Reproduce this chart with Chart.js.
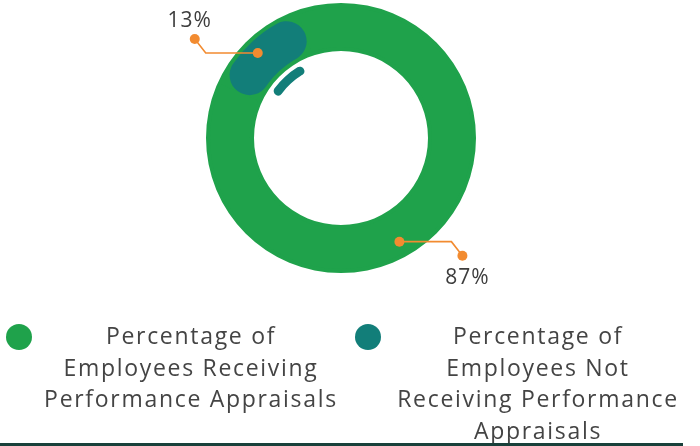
<!DOCTYPE html>
<html>
<head>
<meta charset="utf-8">
<script src="https://cdn.jsdelivr.net/npm/chart.js@4.4.1/dist/chart.umd.min.js"></script>
<style>
  html, body { margin: 0; padding: 0; background: #ffffff; width: 700px; height: 446px; overflow: hidden; }
  body { position: relative; font-family: "Open Sans", "DejaVu Sans", sans-serif; }
  #wrap { position: absolute; left: 0; top: 0; width: 700px; height: 300px; }
  #legend { position: absolute; left: 0; top: 0; width: 700px; height: 446px; }
  .dot { position: absolute; width: 26px; height: 26px; border-radius: 50%; }
  .txt { position: absolute; width: 340px; text-align: center; color: #444444;
         font-size: 23px; line-height: 31.5px; letter-spacing: 1.7px; white-space: nowrap; }
  #rule { position: absolute; left: 0; top: 443px; width: 683px; height: 3px; background: #18403a; }
</style>
</head>
<body>
<div id="wrap"><canvas id="chart"></canvas></div>
<div id="legend"></div>
<div id="rule"></div>
<script>
// Categories (one entry per slice, split into display lines)
const categories = [
  ['Percentage of', 'Employees Receiving', 'Performance Appraisals'],
  ['Percentage of', 'Employees Not', 'Receiving Performance', 'Appraisals']
];
// Share of employees, in percent
const shares = [87, 13];
const sliceColors = ['#1fa24b', '#127e79'];
const percentLabels = shares.map(v => v + '%');

const leaderColor = '#f28b30';

// Full green ring painted under the slices
const ringBackdrop = {
  id: 'ringBackdrop',
  beforeDatasetsDraw(chart) {
    const arc = chart.getDatasetMeta(0).data[0];
    if (!arc) return;
    const pad = 4;
    const ctx = chart.ctx;
    ctx.save();
    ctx.beginPath();
    ctx.arc(arc.x, arc.y, arc.outerRadius + pad, 0, Math.PI * 2);
    ctx.arc(arc.x, arc.y, arc.innerRadius - pad, 0, Math.PI * 2, true);
    ctx.closePath();
    ctx.fillStyle = sliceColors[0];
    ctx.fill();
    ctx.restore();
  }
};

// Percentage call-outs with elbow leader lines
const angleTweak = [13, -2];
const leaderLines = {
  id: 'leaderLines',
  afterDatasetsDraw(chart) {
    const ctx = chart.ctx;
    const meta = chart.getDatasetMeta(0);
    meta.data.forEach((arc, i) => {
      const a = (arc.startAngle + arc.endAngle) / 2 + angleTweak[i] * Math.PI / 180;
      const r = 119;
      const x0 = arc.x + Math.cos(a) * r;
      const y0 = arc.y + Math.sin(a) * r;
      const sx = Math.cos(a) >= 0 ? 1 : -1;
      const sy = Math.sin(a) >= 0 ? 1 : -1;
      const x1 = x0 + sx * 52;
      const y1 = y0;
      const x2 = x1 + sx * 11;
      const y2 = y1 + sy * 14;
      ctx.save();
      ctx.strokeStyle = leaderColor;
      ctx.lineWidth = 1.6;
      ctx.beginPath();
      ctx.moveTo(x0, y0);
      ctx.lineTo(x1, y1);
      ctx.lineTo(x2, y2);
      ctx.stroke();
      ctx.fillStyle = leaderColor;
      [[x0, y0], [x2, y2]].forEach(([px, py]) => {
        ctx.beginPath();
        ctx.arc(px, py, 5, 0, Math.PI * 2);
        ctx.fill();
      });
      ctx.fillStyle = '#3d3d3d';
      ctx.font = '21px "Open Sans", sans-serif';
      if ('letterSpacing' in ctx) ctx.letterSpacing = '1px';
      ctx.textAlign = 'center';
      ctx.textBaseline = 'middle';
      ctx.fillText(percentLabels[i], x2 + sx * 5, y2 + sy * 20 + 2);
      ctx.restore();
    });
  }
};

new Chart(document.getElementById('chart'), {
  type: 'doughnut',
  data: {
    labels: categories,
    datasets: [
      {
        data: shares,
        backgroundColor: sliceColors,
        borderWidth: 0,
        borderRadius: [0, 20],
        radius: 131,
        cutout: '38.9313%',
        weight: 1
      },
      {
        data: shares,
        backgroundColor: ['rgba(0,0,0,0)', sliceColors[1]],
        borderWidth: 0,
        borderRadius: 10,
        radius: 65.86,
        cutout: '72.67%',
        spacing: 52.3,
        weight: 1
      }
    ]
  },
  options: {
    responsive: true,
    maintainAspectRatio: false,
    animation: false,
    events: [],
    rotation: -19,
    layout: { padding: { left: 0, right: 18, top: 0, bottom: 24 } },
    plugins: { legend: { display: false }, tooltip: { enabled: false } }
  },
  plugins: [ringBackdrop, leaderLines]
});

// Legend built from the same categories and colours
const legendPos = [
  { dotX: 6, textCenter: 191 },
  { dotX: 355, textCenter: 538 }
];
const legend = document.getElementById('legend');
categories.forEach((lines, i) => {
  const dot = document.createElement('div');
  dot.className = 'dot';
  dot.style.left = legendPos[i].dotX + 'px';
  dot.style.top = '324px';
  dot.style.background = sliceColors[i];
  legend.appendChild(dot);
  const txt = document.createElement('div');
  txt.className = 'txt';
  txt.style.left = (legendPos[i].textCenter - 170) + 'px';
  txt.style.top = '320px';
  txt.innerHTML = lines.map(l => '<div>' + l + '</div>').join('');
  legend.appendChild(txt);
});
</script>
</body>
</html>
